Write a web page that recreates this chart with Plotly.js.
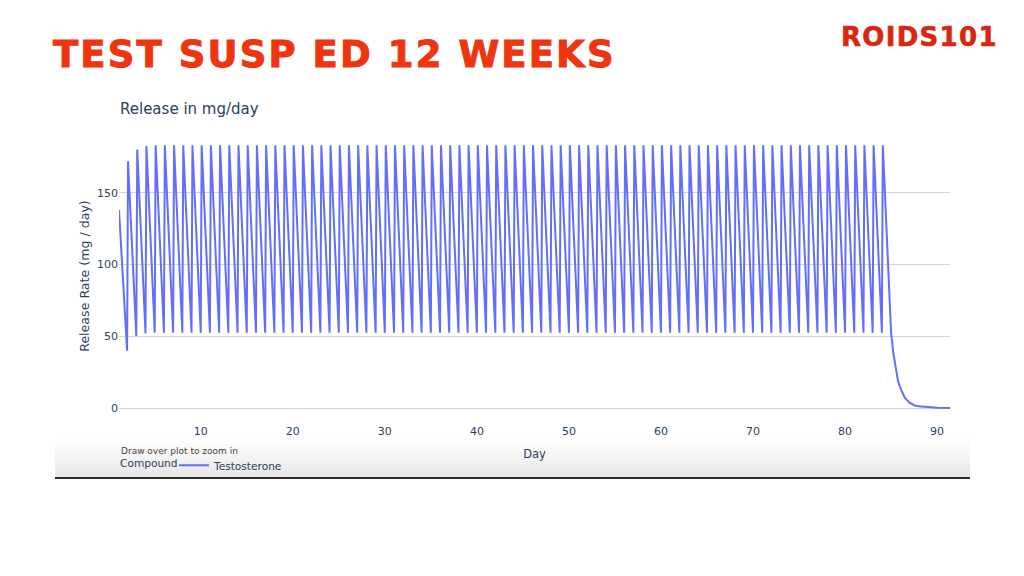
<!DOCTYPE html>
<html>
<head>
<meta charset="utf-8">
<script src="https://cdn.plot.ly/plotly-3.0.1.min.js"></script>
<style>
  html, body { margin: 0; padding: 0; background: #ffffff; }
  #page { position: relative; width: 1024px; height: 576px; overflow: hidden; background: #ffffff; }
  #band { position: absolute; left: 55px; top: 436px; width: 915px; height: 41px;
          background: linear-gradient(to bottom, #ffffff 0%, #f3f3f3 55%, #e6e6e6 100%); z-index: 0; }
  #rule { position: absolute; left: 55px; top: 477px; width: 915px; height: 1.5px; background: #2a2a2a; z-index: 0; }
  #chart { position: absolute; left: 0; top: 0; width: 1024px; height: 576px; z-index: 1; }
  #headline { position: absolute; left: 53px; top: 36px; font-family: "DejaVu Sans", sans-serif; font-weight: bold;
              font-size: 37px; line-height: 37px; letter-spacing: 2.1px; color: #ee3510; white-space: nowrap; z-index: 2;
              -webkit-text-stroke: 1px #ee3510; }
  #logo { position: absolute; left: 841px; top: 24px; font-family: "DejaVu Sans", sans-serif; font-weight: bold;
          font-size: 26px; line-height: 26px; letter-spacing: 1.3px; white-space: nowrap; z-index: 2;
          color: #d8260f; -webkit-text-stroke: 0.6px #d8260f; }
</style>
</head>
<body>
<div id="page">
  <div id="band"></div>
  <div id="rule"></div>
  <div id="chart"></div>
  <div id="headline">TEST SUSP ED 12 WEEKS</div>
  <div id="logo">ROIDS101</div>
</div>
<script>
// Day of each injection peak (84 daily injections)
const peakDays = [1.12,2.1,3.1,4.1,5.1,6.1,7.1,8.1,9.1,10.1,
  11.1,12.1,13.1,14.1,15.1,16.1,17.1,18.1,19.1,20.1,
  21.1,22.1,23.1,24.1,25.1,26.1,27.1,28.1,29.1,30.1,
  31.1,32.1,33.1,34.1,35.1,36.1,37.1,38.1,39.1,40.1,
  41.1,42.1,43.1,44.1,45.1,46.1,47.1,48.1,49.1,50.1,
  51.1,52.1,53.1,54.1,55.1,56.1,57.1,58.1,59.1,60.1,
  61.1,62.1,63.1,64.1,65.1,66.1,67.1,68.1,69.1,70.1,
  71.1,72.1,73.1,74.1,75.1,76.1,77.1,78.1,79.1,80.1,
  81.1,82.1,83.1,84.1];
// Release rate at each peak (mg/day)
const peakRates = [138,172,180,182.5,
  183,183,183,183,183,183,183,183,183,183,
  183,183,183,183,183,183,183,183,183,183,
  183,183,183,183,183,183,183,183,183,183,
  183,183,183,183,183,183,183,183,183,183,
  183,183,183,183,183,183,183,183,183,183,
  183,183,183,183,183,183,183,183,183,183,
  183,183,183,183,183,183,183,183,183,183,
  183,183,183,183,183,183,183,183,183,183];
// Day of each trough (just before the next injection)
const troughDays = [2,3,4,5,6,7,8,9,10,
  11,12,13,14,15,16,17,18,19,20,
  21,22,23,24,25,26,27,28,29,30,
  31,32,33,34,35,36,37,38,39,40,
  41,42,43,44,45,46,47,48,49,50,
  51,52,53,54,55,56,57,58,59,60,
  61,62,63,64,65,66,67,68,69,70,
  71,72,73,74,75,76,77,78,79,80,
  81,82,83,84];
// Release rate at each trough (mg/day)
const troughRates = [40,50,52,
  52.5,52.5,52.5,52.5,52.5,52.5,52.5,52.5,52.5,52.5,
  52.5,52.5,52.5,52.5,52.5,52.5,52.5,52.5,52.5,52.5,
  52.5,52.5,52.5,52.5,52.5,52.5,52.5,52.5,52.5,52.5,
  52.5,52.5,52.5,52.5,52.5,52.5,52.5,52.5,52.5,52.5,
  52.5,52.5,52.5,52.5,52.5,52.5,52.5,52.5,52.5,52.5,
  52.5,52.5,52.5,52.5,52.5,52.5,52.5,52.5,52.5,52.5,
  52.5,52.5,52.5,52.5,52.5,52.5,52.5,52.5,52.5,52.5,
  52.5,52.5,52.5,52.5,52.5,52.5,52.5,52.5,52.5,52.5];
// Wash-out after the last injection
const tailDays  = [85.0, 85.25, 85.5, 85.75, 86.0, 86.5, 87.0, 87.5, 88.0, 89.0, 90.0, 91.4];
const tailRates = [52.5, 38, 27, 19, 14, 7, 3.8, 2, 1.2, 0.5, 0.25, 0.1];

const xTickVals = [10,20,30,40,50,60,70,80,90];
const yTickVals = [0,50,100,150];

// Build the series from the arrays above
const xs = [], ys = [];
for (let i = 0; i < peakDays.length; i++) {
  xs.push(peakDays[i]); ys.push(peakRates[i]);
  if (i < troughDays.length) { xs.push(troughDays[i]); ys.push(troughRates[i]); }
}
for (let i = 0; i < tailDays.length; i++) { xs.push(tailDays[i]); ys.push(tailRates[i]); }

const font = '"DejaVu Sans", Verdana, sans-serif';
const ink = '#2a3f5f';

const trace = {
  x: xs, y: ys, type: 'scatter', mode: 'lines', name: 'Testosterone',
  line: { color: '#636efa', width: 2 }
};

const layout = {
  width: 1024, height: 576,
  margin: { l: 119, r: 74, t: 131, b: 155 },
  paper_bgcolor: 'rgba(0,0,0,0)', plot_bgcolor: 'rgba(0,0,0,0)',
  font: { family: font, size: 10.5, color: ink },
  title: { text: 'Release in mg/day', font: { family: font, size: 15, color: ink },
           x: 120/1024, xanchor: 'left', xref: 'container', y: 1 - 109/576, yanchor: 'middle', yref: 'container' },
  xaxis: {
    range: [1.12, 91.4], tickvals: xTickVals, showgrid: false, zeroline: false, showline: false,
    ticks: '', ticklabelstandoff: 2, tickfont: { size: 11, color: ink },
    title: { text: 'Day', font: { size: 11.5, color: ink }, standoff: 12 }
  },
  yaxis: {
    range: [-9, 193], tickvals: yTickVals, showgrid: true, gridcolor: '#d4d4d4', gridwidth: 1,
    zeroline: false, showline: false, ticks: '', tickfont: { size: 11, color: ink },
    title: { text: 'Release Rate (mg / day)', font: { size: 12.6, color: ink }, standoff: 4 }
  },
  showlegend: true,
  legend: { orientation: 'h', x: (174-119)/831, xanchor: 'left', y: -0.103, yanchor: 'top',
            font: { size: 10.6, color: ink }, bgcolor: 'rgba(0,0,0,0)' },
  annotations: [{
    text: 'Draw over plot to zoom in', xref: 'paper', yref: 'paper',
    x: 0.0005, xanchor: 'left', y: -(451-421)/290, yanchor: 'middle',
    showarrow: false, font: { family: font, size: 9, color: '#444' }
  }, {
    text: 'Compound', xref: 'paper', yref: 'paper',
    x: -0.001, xanchor: 'left', y: -(463-421)/290, yanchor: 'middle',
    showarrow: false, font: { family: font, size: 10.6, color: ink }
  }]
};

Plotly.newPlot('chart', [trace], layout, { displayModeBar: false, responsive: false });
</script>
</body>
</html>
